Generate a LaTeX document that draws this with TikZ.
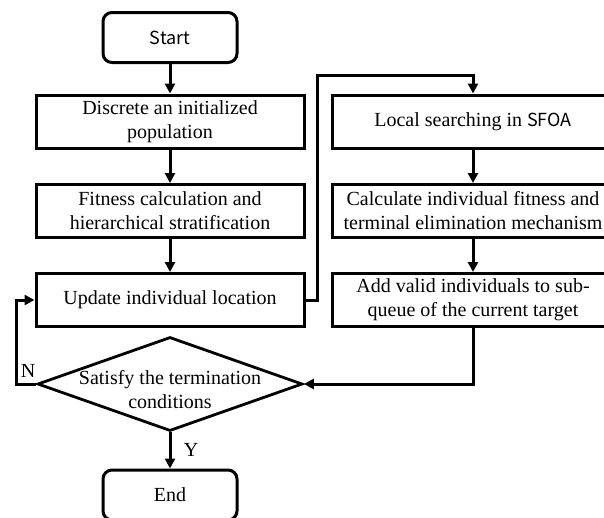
\documentclass[tikz,border=0pt]{standalone}
\usepackage{fontspec}
\setmainfont{Liberation Serif}
\newfontfamily\cjksans{Noto Sans CJK SC}
\usetikzlibrary{arrows.meta,shapes.geometric}
\begin{document}
\begin{tikzpicture}[x=1pt,y=-1pt,
  every node/.style={font=\fontsize{20}{24}\selectfont},
  procbox/.style={draw,line width=3pt,rectangle,minimum width=268pt,minimum height=53pt,inner sep=0pt,align=center},
  wideproc/.style={procbox,minimum width=282pt},
  terminal/.style={draw,line width=3pt,rectangle,rounded corners=9pt,minimum width=134pt,minimum height=50pt,inner sep=0pt,font=\cjksans\fontsize{18}{22}\selectfont},
  decision/.style={draw,line width=2.8pt,diamond,minimum width=265pt,minimum height=94pt,inner sep=0pt},
  flow/.style={line width=3pt,-{Triangle[length=10pt,width=10pt]}},
  branch/.style={font=\fontsize{20}{24}\selectfont}]
\useasboundingbox (0,0) rectangle (604,517);

% left column
\node[terminal] (start) at (170,37.5) {Start};
\node[procbox] (init) at (170,121.5) {Discrete an initialized\\population};
\node[procbox] (fit) at (170,211) {Fitness calculation and\\hierarchical stratification};
\node[procbox] (upd) at (170,300) {Update individual location};
\node[decision] (dec) at (170,384) {};
\node[align=center] (dectext) at (170,390) {Satisfy the termination\\conditions};
\node[terminal,font=\fontsize{20}{24}\selectfont] (end) at (170,495) {End};

% right column
\node[wideproc] (local) at (473,121.5) {Local searching in {\cjksans\fontsize{18}{22}\selectfont SFOA}};
\node[wideproc] (calc) at (473,211) {Calculate individual fitness and\\terminal elimination mechanism};
\node[wideproc] (add) at (473,300) {Add valid individuals to sub-\\queue of the current target};

% routing points
\coordinate (r1) at (317,300);
\coordinate (r2) at (317,75);
\coordinate (r3) at (473,75);
\coordinate (b1) at (473,384);
\coordinate (n1) at (16,384);
\coordinate (n2) at (16,300);

% connectors
\draw[flow] (start) -- (init);
\draw[flow] (init) -- (fit);
\draw[flow] (fit) -- (upd);
\draw[flow] (upd.east) -- (r1) -- (r2) -- (r3) -- (local.north);
\draw[flow] (local) -- (calc);
\draw[flow] (calc) -- (add);
\draw[flow] (add.south) -- (b1) -- (dec.east);
\draw[flow] (dec.west) -- (n1) -- (n2) -- (upd.west);
\draw[flow] (dec.south) -- (end.north);

% branch labels
\node[branch] (nlab) at (28,371) {N};
\node[branch] (ylab) at (191,450) {Y};
\end{tikzpicture}
\end{document}
